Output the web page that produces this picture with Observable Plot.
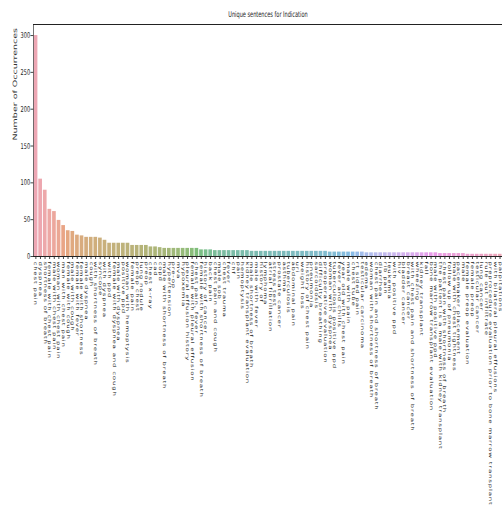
<!DOCTYPE html>
<html>
<head>
<meta charset="utf-8">
<script src="https://cdn.jsdelivr.net/npm/d3@7"></script>
<script src="https://cdn.jsdelivr.net/npm/@observablehq/plot@0.6"></script>
<style>
  html, body { margin: 0; padding: 0; background: #fff; overflow: hidden; }
  #chart svg { display: block; }
  #chart g[aria-label="x-axis tick label"] text { letter-spacing: 0.8px; }
</style>
</head>
<body>
<div id="chart"></div>
<script>
const title = "Unique sentences for Indication";
const yLabel = "Number of Occurrences";

const categories = [
  "chest pain", "dyspnea", "shortness of breath", "female with chest pain",
  "male with chest pain", "woman with chest pain", "man with chest pain", "female with cough",
  "male with cough", "female with fever", "female with shortness", "male dyspnea",
  "cough", "with shortness of breath", "syncope", "with dyspnea",
  "with ppd", "female with dyspnea and cough", "male with dyspnea", "positive ppd",
  "woman with hemoptysis", "female pain", "preop chest", "lung nodule",
  "preop", "chest x-ray", "cad", "copd",
  "male with shortness of breath", "hypertension", "pre-op", "mva",
  "hypoxemia", "pleural effusion history", "female with pleural effusion", "chest pain, fever",
  "female with shortness of breath", "history of cancer", "back pain", "chest pain and cough",
  "male sob", "chest trauma", "fever", "chf",
  "pain", "hemoptysis", "kidney transplant evaluation", "male shortness of breath",
  "male with fever", "history of", "lymphoma", "atrial fibrillation",
  "stress test", "prostate cancer", "asthma", "tuberculosis",
  "abdominal pain", "uri", "weight loss", "history of chest pain",
  "pneumonia", "sarcoidosis", "difficulty breathing", "preoperative evaluation",
  "woman with dyspnea", "tuberculosis positive ppd", "fever and chills", "year old with chest pain",
  "male with pain", "chest tube", "rt sided pain", "testicular carcinoma",
  "edema", "woman with shortness of breath", "chest pain and shortness of breath", "diarrhea",
  "rib pain", "leukemia", "with positive ppd", "hiv",
  "bladder cancer", "breast cancer", "with chest pain and shortness of breath", "wheezing",
  "kidney transplant", "fall", "bone marrow transplant evaluation", "male with positive ppd",
  "the patient is a male with kidney transplant", "chest pain with shortness of breath", "follow up of pneumonia", "male with chest tightness",
  "pacemaker placement", "male", "female preop evaluation", "female preop",
  "testicular cancer", "lung cancer", "rule out infiltrate", "preprocedure evaluation prior to bone marrow transplant",
  "with bilateral pleural effusions", "palpitations"
];

const counts = [
  300, 105, 90, 64, 61, 49, 42, 35, 34, 29, 28, 26, 26, 26, 25, 22,
  18, 18, 18, 18, 18,
  15, 15, 15, 15,
  13, 13, 12,
  11, 11, 11, 11, 11, 11, 11, 11,
  9, 9, 9,
  8, 8, 8, 8, 8, 8, 8, 8,
  7, 7, 7, 7, 7, 7, 7, 7, 7, 7, 7, 7, 7, 7, 7, 7, 7,
  6, 6, 6, 6, 6, 6, 6, 6,
  5, 5, 5, 5, 5, 5, 5, 5, 5, 5, 5, 5, 5, 5, 5, 5,
  4, 4, 4, 4, 4, 4,
  3, 3, 3, 3, 3, 3, 3, 3
];

const yTicks = [0, 50, 100, 150, 200, 250, 300];

// HUSL (HSLuv) palette, as in seaborn's husl_palette(h=.01, s=.9, l=.65)
const M = [
  [3.240969941904521, -1.537383177570093, -0.498610760293],
  [-0.96924363628087, 1.87596750150772, 0.041555057407175],
  [0.055630079696993, -0.20397695888897, 1.056971514242878]
];
const KAPPA = 903.2962962, EPS = 0.0088564516;
function maxChroma(L, H) {
  const hrad = H / 180 * Math.PI;
  const sub1 = Math.pow(L + 16, 3) / 1560896;
  const sub2 = sub1 > EPS ? sub1 : L / KAPPA;
  let min = Infinity;
  for (const [m1, m2, m3] of M) {
    for (const t of [0, 1]) {
      const top1 = (284517 * m1 - 94839 * m3) * sub2;
      const top2 = (838422 * m3 + 769860 * m2 + 731718 * m1) * L * sub2 - 769860 * t * L;
      const bottom = (632260 * m3 - 126452 * m2) * sub2 + 126452 * t;
      const slope = top1 / bottom, intercept = top2 / bottom;
      const len = intercept / (Math.sin(hrad) - slope * Math.cos(hrad));
      if (len >= 0) min = Math.min(min, len);
    }
  }
  return min;
}
function husl(H, S, L) {
  const C = maxChroma(L, H) / 100 * S;
  const hr = H / 180 * Math.PI;
  const u = C * Math.cos(hr), v = C * Math.sin(hr);
  const varU = u / (13 * L) + 0.19783000664283;
  const varV = v / (13 * L) + 0.46831999493879;
  const Y = L > 8 ? Math.pow((L + 16) / 116, 3) : L / KAPPA;
  const X = 0 - (9 * Y * varU) / ((varU - 4) * varV - varU * varV);
  const Z = (9 * Y - 15 * varV * Y - varV * X) / (3 * varV);
  const rgb = M.map(([a, b, c]) => {
    let x = a * X + b * Y + c * Z;
    x = x <= 0.0031308 ? 12.92 * x : 1.055 * Math.pow(x, 1 / 2.4) - 0.055;
    return Math.round(255 * Math.max(0, Math.min(1, x)));
  });
  return d3.rgb(...rgb);
}
function palette(n) {
  return d3.range(n).map(i => {
    const h = ((i / n + 0.01) % 1) * 359;
    const c = d3.hsl(husl(h, 0.9 * 99, 0.65 * 99));
    c.s *= 0.75; // seaborn's default bar desaturation
    return c.formatHex();
  });
}

const colors = palette(categories.length);
const rows = categories.map((label, i) => ({label, count: counts[i], color: colors[i]}));

const W = 800, H = 506;
const chart = Plot.plot({
  width: W,
  height: H,
  marginLeft: 53,
  marginRight: 0,
  marginTop: 24,
  marginBottom: 250,
  style: {fontFamily: "DejaVu Sans", color: "#1a1a1a", background: "#fff"},
  x: {domain: categories, paddingInner: 0.2, paddingOuter: 0.1, label: null},
  y: {domain: [0, 315], label: null},
  marks: [
    Plot.barY(rows, {x: "label", y: "count", fill: "color", fillOpacity: 0.7}),
    Plot.axisX({tickRotate: 90, fontSize: 7, tickSize: 3, tickPadding: 2, label: null}),
    Plot.axisY({ticks: yTicks, fontSize: 8, tickSize: 4.5, tickPadding: 1, label: null}),
    Plot.frame({stroke: "#222"}),
    Plot.text([title], {frameAnchor: "top", dy: -10, fontSize: 8, lineAnchor: "middle", fill: "#222"}),
    Plot.text([yLabel], {frameAnchor: "left", dx: -29, rotate: -90, fontSize: 9.5, lineAnchor: "middle", fill: "#333"})
  ]
});
// Figure is displayed horizontally compressed to the page width
chart.setAttribute("width", 502);
chart.setAttribute("height", H);
chart.setAttribute("preserveAspectRatio", "none");
document.getElementById("chart").appendChild(chart);
</script>
</body>
</html>
